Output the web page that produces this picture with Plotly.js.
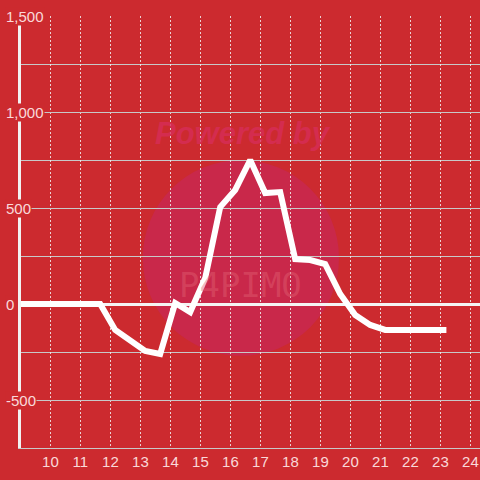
<!DOCTYPE html>
<html>
<head>
<meta charset="utf-8">
<script src="https://cdn.plot.ly/plotly-3.0.1.min.js"></script>
<style>html,body{margin:0;padding:0;background:#cc2a2f;}#chart{width:480px;height:480px;}</style>
</head>
<body>
<div id="chart"></div>
<script>
// Data (hour of day, value)
var hours = [8.66, 9.16, 9.66, 10.16, 10.66, 11.16, 11.66, 12.16, 12.66, 13.16, 13.66, 14.16, 14.66, 15.16, 15.66, 16.16, 16.66, 17.16, 17.66, 18.16, 18.66, 19.16, 19.66, 20.16, 20.66, 21.16, 21.66, 22.16, 22.66, 23.2];
var values = [0, 0, 0, 0, 0, 0, 0, -135, -187, -245, -260, 5, -42, 135, 505, 594, 750, 578, 583, 234, 229, 208, 52, -57, -109, -135, -135, -135, -135, -135];
var xTickVals = [10, 11, 12, 13, 14, 15, 16, 17, 18, 19, 20, 21, 22, 23, 24];
var yTickVals = [-500, 0, 500, 1000, 1500];
var yTickText = ['-500', '0', '500', '1,000', '1,500'];

var bg = '#cc2a2f';
var labelColor = 'rgba(255,235,235,0.92)';

var W = 480, L = 21;
var annotations = yTickVals.map(function (v, i) {
  return {
    x: (5 - L) / (W - L), xref: 'paper', xanchor: 'left',
    y: v, yref: 'y', yanchor: 'middle',
    text: yTickText[i], showarrow: false,
    bgcolor: bg, borderpad: 0,
    font: {family: 'Liberation Sans, Arial, sans-serif', size: 15, color: labelColor}
  };
});
annotations.push({
  x: 0.484, xref: 'paper', y: 890, yref: 'y', text: '<b><i>Powered by</i></b>', showarrow: false,
  font: {family: 'Liberation Sans, Arial, sans-serif', size: 31, color: 'rgba(215,45,90,0.75)'}
});
annotations.push({
  x: 0.478, xref: 'paper', y: 100, yref: 'y', text: 'P4PIMO', showarrow: false,
  font: {family: 'DejaVu Sans Mono, monospace', size: 34, color: 'rgba(225,95,115,0.45)'}
});

var trace = {
  x: hours, y: values, type: 'scatter', mode: 'lines',
  line: {color: '#ffffff', width: 6},
  hoverinfo: 'skip'
};

var layout = {
  width: 480, height: 480,
  paper_bgcolor: bg, plot_bgcolor: bg,
  margin: {l: L, r: 0, t: 16, b: 32},
  showlegend: false,
  xaxis: {
    range: [9.02, 24.32], tickvals: xTickVals,
    showgrid: true, gridcolor: 'rgba(240,240,240,0.85)', gridwidth: 1, griddash: '2px,2px',
    showline: true, linecolor: '#c8c8c8', linewidth: 1,
    zeroline: false, ticks: '',
    tickfont: {family: 'Liberation Sans, Arial, sans-serif', size: 15, color: labelColor}
  },
  yaxis: {
    range: [-750, 1500], tickvals: yTickVals, showticklabels: false,
    showgrid: true, gridcolor: '#c8c8c8', gridwidth: 1,
    minor: {dtick: 250, tick0: 0, showgrid: true, gridcolor: '#c8c8c8', gridwidth: 1},
    showline: true, linecolor: '#f2f2f2', linewidth: 3,
    zeroline: true, zerolinecolor: '#f4f4f4', zerolinewidth: 3,
    ticks: ''
  },
  shapes: [{
    type: 'circle', xref: 'x', yref: 'y', layer: 'below',
    x0: 13.08, x1: 19.62, y0: -270, y1: 750,
    fillcolor: '#c9284a', line: {width: 0}
  }],
  annotations: annotations
};

Plotly.newPlot('chart', [trace], layout, {displayModeBar: false, staticPlot: true});
</script>
</body>
</html>
